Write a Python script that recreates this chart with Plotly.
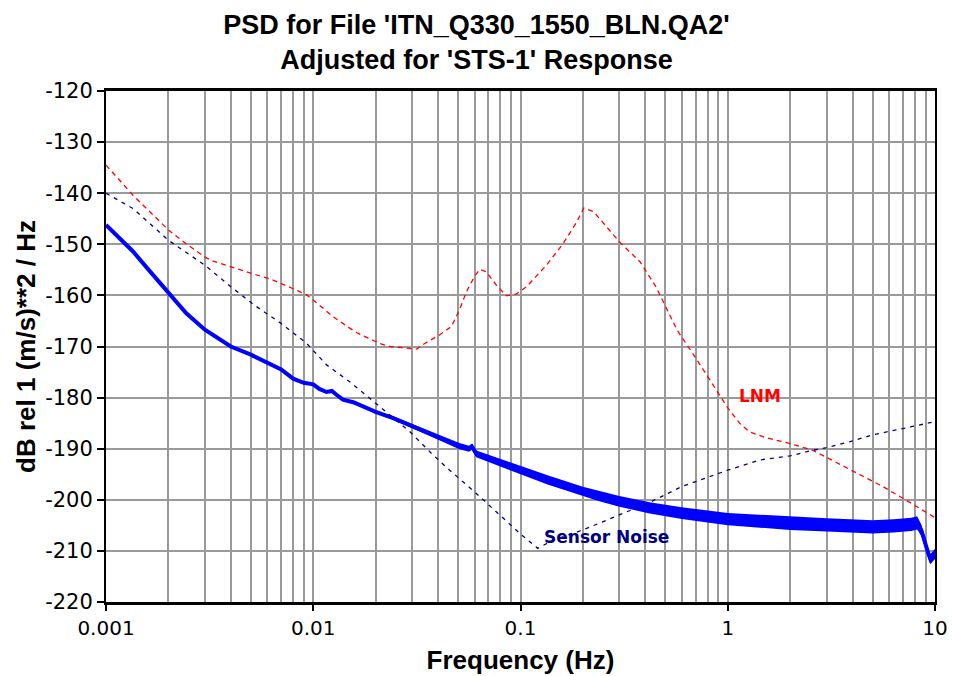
import plotly.graph_objects as go

# Measured PSD of the station record (Hz, dB rel 1 (m/s)**2/Hz)
psd_freq = [0.001, 0.00135, 0.00163, 0.002, 0.00244, 0.003, 0.004, 0.005, 0.006, 0.007,
            0.008, 0.009, 0.01, 0.0107, 0.0116, 0.0123, 0.0129, 0.0139, 0.0156, 0.017,
            0.02, 0.0243, 0.0303, 0.0345, 0.0424, 0.0507, 0.0565, 0.0583, 0.0612, 0.0735,
            0.0888, 0.115, 0.135, 0.2, 0.24, 0.3, 0.42, 0.6, 1.0, 1.43,
            2.0, 3.0, 3.9, 5.0, 6.3, 7.7, 8.2, 8.6, 9.2, 9.5,
            9.8, 10.0]
psd_db = [-146.2, -151.4, -155.3, -159.5, -163.5, -166.7, -170.0, -171.6, -173.2, -174.5,
          -176.3, -177.1, -177.4, -178.3, -178.9, -178.7, -179.4, -180.4, -180.9, -181.6,
          -182.8, -184.0, -185.6, -186.6, -188.2, -189.5, -190.0, -189.6, -191.0, -192.2,
          -193.5, -195.1, -196.1, -198.4, -199.3, -200.3, -201.6, -202.6, -203.8, -204.2,
          -204.6, -204.9, -205.1, -205.3, -205.1, -204.8, -204.5, -206.0, -210.0, -211.6,
          -211.0, -210.6]
# Half-width (dB) of the scatter around the PSD trace
psd_spread = [0.0, 0.0, 0.0, 0.0, 0.0, 0.0, 0.0, 0.0, 0.0, 0.0,
              0.05, 0.1, 0.1, 0.15, 0.15, 0.2, 0.2, 0.2, 0.25, 0.25,
              0.3, 0.35, 0.4, 0.45, 0.5, 0.6, 0.6, 0.6, 0.65, 0.7,
              0.8, 0.85, 0.9, 0.95, 1.0, 1.05, 1.1, 1.15, 1.2, 1.25,
              1.3, 1.3, 1.3, 1.3, 1.3, 1.3, 1.3, 1.1, 1.0, 1.0,
              1.0, 1.0]

# Peterson low noise model
lnm_freq = [0.001, 0.00135, 0.002, 0.00244, 0.003, 0.00329, 0.004, 0.0052, 0.0064, 0.0077,
            0.0093, 0.0107, 0.0125, 0.015, 0.0164, 0.0209, 0.0234, 0.0316, 0.0345, 0.0408,
            0.0464, 0.0507, 0.0548, 0.06, 0.0636, 0.0685, 0.0765, 0.0856, 0.0957, 0.107,
            0.134, 0.161, 0.187, 0.202, 0.225, 0.30, 0.377, 0.45, 0.506, 0.57,
            0.71, 0.82, 0.91, 1.0, 1.14, 1.27, 1.52, 2.0, 2.57, 2.97,
            3.9, 5.6, 7.7, 10.0]
lnm_db = [-134.5, -140.4, -147.2, -149.9, -152.5, -153.3, -154.4, -155.8, -157.0, -158.4,
          -159.9, -161.9, -164.2, -166.4, -167.4, -169.4, -170.0, -170.5, -169.4, -167.7,
          -166.1, -162.9, -159.3, -156.3, -154.9, -155.4, -158.0, -160.1, -159.7, -158.3,
          -154.0, -149.8, -145.6, -142.9, -143.6, -149.5, -153.4, -158.3, -162.5, -166.8,
          -172.6, -176.6, -179.5, -182.0, -185.0, -186.7, -187.8, -189.0, -190.3, -191.6,
          -194.2, -197.4, -200.7, -203.5]

# STS-1 self-noise
sn_freq = [0.001, 0.00135, 0.002, 0.003, 0.004, 0.0052, 0.007, 0.0093, 0.0116, 0.015,
           0.02, 0.0293, 0.0378, 0.0455, 0.061, 0.0856, 0.1, 0.121, 0.144, 0.2,
           0.3, 0.42, 0.6, 1.0, 1.43, 2.0, 2.57, 3.0, 3.9, 5.0,
           7.7, 10.0]
sn_db = [-140.0, -143.0, -149.2, -154.1, -158.3, -161.9, -165.5, -169.4, -173.6, -176.9,
         -181.1, -186.7, -191.2, -194.2, -198.7, -204.3, -206.7, -209.5, -207.9, -205.9,
         -203.0, -200.5, -197.4, -194.2, -192.2, -191.4, -190.3, -189.8, -188.6, -187.3,
         -185.7, -184.7]

x_tick_vals = [0.001, 0.01, 0.1, 1, 10]
x_tick_text = ["0.001", "0.01", "0.1", "1", "10"]
y_tick_vals = [-220, -210, -200, -190, -180, -170, -160, -150, -140, -130, -120]
y_tick_text = ["-220", "-210", "-200", "-190", "-180", "-170", "-160", "-150", "-140", "-130", "-120"]
minor_vals = [m * 10.0 ** e for e in range(-3, 1) for m in range(2, 10)]

GRID = "#9a9a9a"
BLUE = "#0000ff"
RED = "#ff0000"
NAVY = "#000080"

psd_hi = [v + s for v, s in zip(psd_db, psd_spread)]
psd_lo = [v - s for v, s in zip(psd_db, psd_spread)]

fig = go.Figure()

# scatter band of the measured PSD
fig.add_trace(go.Scatter(x=psd_freq, y=psd_hi, mode="lines",
                         line=dict(width=0, color=BLUE), hoverinfo="skip"))
fig.add_trace(go.Scatter(x=psd_freq, y=psd_lo, mode="lines",
                         line=dict(width=0, color=BLUE), fill="tonexty",
                         fillcolor=BLUE, hoverinfo="skip"))
fig.add_trace(go.Scatter(x=psd_freq, y=psd_db, mode="lines", name="PSD",
                         line=dict(color=BLUE, width=4)))

fig.add_trace(go.Scatter(x=lnm_freq, y=lnm_db, mode="lines", name="LNM",
                         line=dict(color=RED, width=1.3, dash="5px,4px")))
fig.add_trace(go.Scatter(x=sn_freq, y=sn_db, mode="lines", name="Sensor Noise",
                         line=dict(color=NAVY, width=1.3, dash="4px,5px")))

fig.add_annotation(x=0.0454, y=-179.6, xref="x", yref="y", text="<b>LNM</b>",
                   showarrow=False, xanchor="left", yanchor="middle",
                   font=dict(family="DejaVu Sans", size=17, color=RED))
fig.add_annotation(x=-0.898, y=-207.3, xref="x", yref="y", text="<b>Sensor Noise</b>",
                   showarrow=False, xanchor="left", yanchor="middle",
                   font=dict(family="DejaVu Sans", size=17, color=NAVY))

fig.update_layout(
    width=953, height=676,
    margin=dict(l=106, r=18, t=91, b=74, autoexpand=False),
    paper_bgcolor="white", plot_bgcolor="white",
    showlegend=False,
    title=dict(text="PSD for File 'ITN_Q330_1550_BLN.QA2'<br>Adjusted for 'STS-1' Response",
               x=0.5, xref="container", xanchor="center",
               y=0.95, yref="container", yanchor="top",
               font=dict(family="Liberation Sans", size=27, color="black", weight="bold")),
)

fig.update_xaxes(
    type="log", range=[-3, 1], automargin=False,
    tickvals=x_tick_vals, ticktext=x_tick_text,
    ticks="outside", ticklen=6, tickwidth=1.5, tickcolor="black",
    tickfont=dict(family="DejaVu Sans", size=20, color="black"),
    showgrid=True, gridcolor=GRID, gridwidth=1.5,
    minor=dict(tickvals=minor_vals, showgrid=True, gridcolor=GRID, gridwidth=1.5, ticks=""),
    showline=True, linecolor="black", linewidth=3, mirror=True, zeroline=False,
    title=dict(text="Frequency (Hz)", standoff=12,
               font=dict(family="Liberation Sans", size=26, color="black", weight="bold")),
)
fig.update_yaxes(
    range=[-220, -120], automargin=False,
    tickvals=y_tick_vals, ticktext=y_tick_text,
    ticks="outside", ticklen=7, tickwidth=1.5, tickcolor="black",
    tickfont=dict(family="DejaVu Sans", size=21, color="black"),
    showgrid=True, gridcolor=GRID, gridwidth=1.5,
    showline=True, linecolor="black", linewidth=2, mirror=True, zeroline=False,
    title=dict(text="dB rel 1 (m/s)**2 / Hz", standoff=2,
               font=dict(family="Liberation Sans", size=26, color="black", weight="bold")),
)

fig.write_html("out.html")
